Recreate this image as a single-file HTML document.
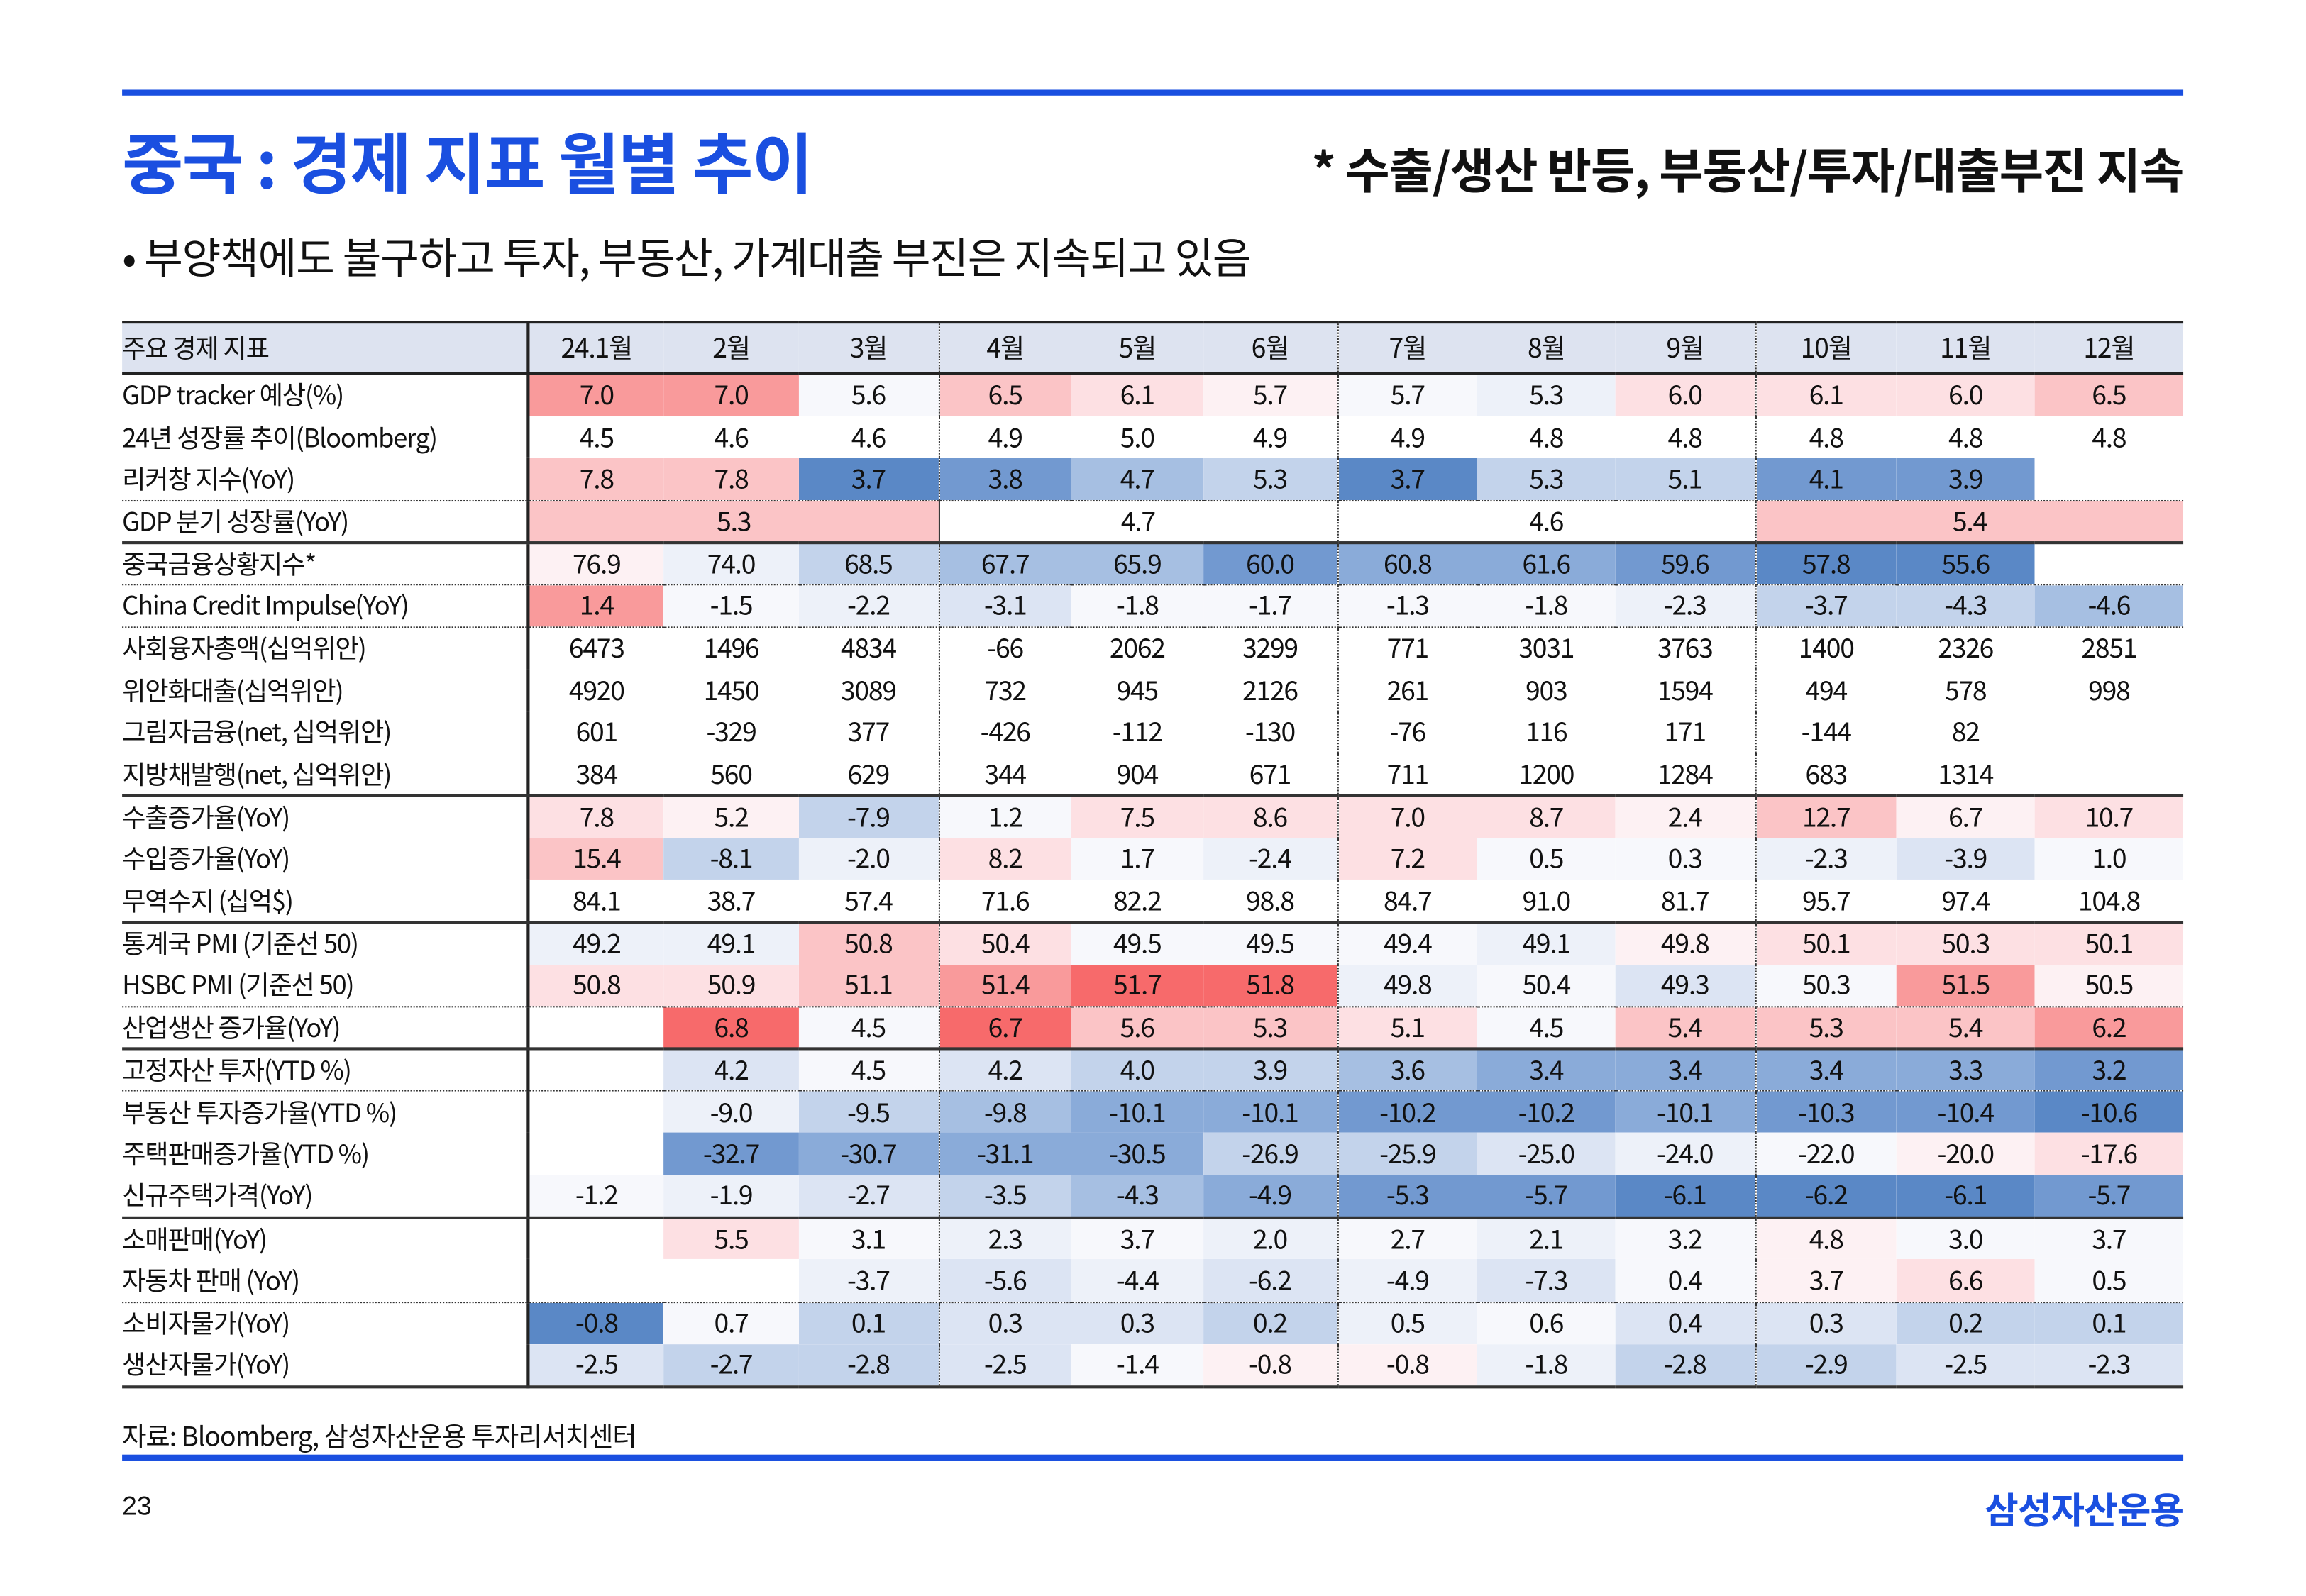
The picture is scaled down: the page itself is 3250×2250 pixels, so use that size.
<!DOCTYPE html>
<html><head><meta charset="utf-8">
<style>
html,body{margin:0;padding:0;background:#fff;overflow:hidden;}
#wrap{width:1568px;height:1086px;position:relative;transform:scale(2.0735);transform-origin:0 0;font-family:"Liberation Sans","Noto Sans CJK KR",sans-serif;color:#111;}
.topline{position:absolute;left:83px;top:61px;width:1401px;height:4px;background:#1a4fe0;}
.title{position:absolute;left:83px;top:81px;font-size:45.2px;font-weight:700;color:#1a4fe0;font-family:"Noto Sans CJK KR",sans-serif;letter-spacing:-0.8px;line-height:58px;}
.sub{position:absolute;right:84px;top:94px;font-size:32.8px;font-weight:700;font-family:"Noto Sans CJK KR",sans-serif;letter-spacing:-0.6px;line-height:42px;}
.bul{position:absolute;left:83px;top:155px;font-size:28.7px;font-family:"Noto Sans CJK KR",sans-serif;letter-spacing:-0.6px;line-height:40px;}
table{position:absolute;left:83px;top:218px;width:1401px;border-collapse:collapse;table-layout:fixed;font-family:"Noto Sans CJK KR",sans-serif;font-size:18px;letter-spacing:-0.6px;}
td{height:28.7px;padding:0;text-align:center;line-height:27px;white-space:nowrap;overflow:hidden;box-sizing:border-box;}
td.l{text-align:left;border-right:2px solid #222;font-size:17.5px;}
tr.h td{background:#dde3f0;height:35px;border-top:2px solid #222;border-bottom:2px solid #222;}
tr.s td{border-bottom:2px solid #333;}
tr.d td{border-bottom:1.5px dotted #333;}
td.v{border-right:1.5px dotted #333;}
.R3{background:#f76a6b}.R2{background:#f99a9b}.R1{background:#fbc4c6}.R0{background:#fde0e3}.r{background:#fdf1f3}
.w{background:#f7f8fc}.b{background:#edf1f9}.B0{background:#dce4f3}.B1{background:#c3d3eb}.B2{background:#a6bfe2}.B3{background:#8aabd9}.B4{background:#7299d0}.B5{background:#5a88c6}
.src{position:absolute;left:83px;top:963px;font-size:18px;font-family:"Noto Sans CJK KR",sans-serif;letter-spacing:-0.5px;}
.botline{position:absolute;left:83px;top:989px;width:1401px;height:4px;background:#1a4fe0;}
.pg{position:absolute;left:83px;top:1014px;font-size:18px;}
.logo{position:absolute;right:84px;top:1008px;font-size:25px;font-weight:700;color:#1a4fe0;font-family:"Noto Sans CJK KR",sans-serif;letter-spacing:-0.5px;}
</style></head><body><div id="wrap">
<div class="topline"></div>
<div class="title">중국 : 경제 지표 월별 추이</div>
<div class="sub">* 수출/생산 반등, 부동산/투자/대출부진 지속</div>
<div class="bul">• 부양책에도 불구하고 투자, 부동산, 가계대출 부진은 지속되고 있음</div>
<table>
<colgroup><col style="width:276px"><col style="width:92px"><col style="width:92px"><col style="width:95px"><col style="width:90px"><col style="width:90px"><col style="width:91px"><col style="width:95px"><col style="width:94px"><col style="width:95px"><col style="width:96px"><col style="width:94px"><col style="width:101px"></colgroup>
<tr class="h"><td class="l">주요 경제 지표</td><td>24.1월</td><td>2월</td><td class="v">3월</td><td>4월</td><td>5월</td><td class="v">6월</td><td>7월</td><td>8월</td><td class="v">9월</td><td>10월</td><td>11월</td><td>12월</td></tr>
<tr><td class="l">GDP tracker 예상(%)</td><td class="R2">7.0</td><td class="R2">7.0</td><td class="w v">5.6</td><td class="R1">6.5</td><td class="R0">6.1</td><td class="r v">5.7</td><td class="w">5.7</td><td class="b">5.3</td><td class="R0 v">6.0</td><td class="R0">6.1</td><td class="R0">6.0</td><td class="R1">6.5</td></tr>
<tr><td class="l">24년 성장률 추이(Bloomberg)</td><td>4.5</td><td>4.6</td><td class="v">4.6</td><td>4.9</td><td>5.0</td><td class="v">4.9</td><td>4.9</td><td>4.8</td><td class="v">4.8</td><td>4.8</td><td>4.8</td><td>4.8</td></tr>
<tr class="d"><td class="l">리커창 지수(YoY)</td><td class="R1">7.8</td><td class="R1">7.8</td><td class="B5 v">3.7</td><td class="B4">3.8</td><td class="B2">4.7</td><td class="B1 v">5.3</td><td class="B5">3.7</td><td class="B1">5.3</td><td class="B1 v">5.1</td><td class="B4">4.1</td><td class="B4">3.9</td><td></td></tr>
<tr class="s"><td class="l">GDP 분기 성장률(YoY)</td><td colspan="3" class="R1" style="border-right:1.5px solid #333">5.3</td><td colspan="3" class="v">4.7</td><td colspan="3" class="v">4.6</td><td colspan="3" class="R1">5.4</td></tr>
<tr class="d"><td class="l">중국금융상황지수*</td><td class="r">76.9</td><td class="b">74.0</td><td class="B1 v">68.5</td><td class="B2">67.7</td><td class="B2">65.9</td><td class="B4 v">60.0</td><td class="B3">60.8</td><td class="B3">61.6</td><td class="B4 v">59.6</td><td class="B5">57.8</td><td class="B5">55.6</td><td></td></tr>
<tr class="d"><td class="l">China Credit Impulse(YoY)</td><td class="R2">1.4</td><td class="w">-1.5</td><td class="b v">-2.2</td><td class="B0">-3.1</td><td class="w">-1.8</td><td class="w v">-1.7</td><td class="w">-1.3</td><td class="w">-1.8</td><td class="b v">-2.3</td><td class="B1">-3.7</td><td class="B1">-4.3</td><td class="B2">-4.6</td></tr>
<tr><td class="l">사회융자총액(십억위안)</td><td>6473</td><td>1496</td><td class="v">4834</td><td>-66</td><td>2062</td><td class="v">3299</td><td>771</td><td>3031</td><td class="v">3763</td><td>1400</td><td>2326</td><td>2851</td></tr>
<tr><td class="l">위안화대출(십억위안)</td><td>4920</td><td>1450</td><td class="v">3089</td><td>732</td><td>945</td><td class="v">2126</td><td>261</td><td>903</td><td class="v">1594</td><td>494</td><td>578</td><td>998</td></tr>
<tr><td class="l">그림자금융(net, 십억위안)</td><td>601</td><td>-329</td><td class="v">377</td><td>-426</td><td>-112</td><td class="v">-130</td><td>-76</td><td>116</td><td class="v">171</td><td>-144</td><td>82</td><td></td></tr>
<tr class="s"><td class="l">지방채발행(net, 십억위안)</td><td>384</td><td>560</td><td class="v">629</td><td>344</td><td>904</td><td class="v">671</td><td>711</td><td>1200</td><td class="v">1284</td><td>683</td><td>1314</td><td></td></tr>
<tr><td class="l">수출증가율(YoY)</td><td class="R0">7.8</td><td class="r">5.2</td><td class="B1 v">-7.9</td><td class="w">1.2</td><td class="R0">7.5</td><td class="R0 v">8.6</td><td class="R0">7.0</td><td class="R0">8.7</td><td class="r v">2.4</td><td class="R1">12.7</td><td class="r">6.7</td><td class="R0">10.7</td></tr>
<tr><td class="l">수입증가율(YoY)</td><td class="R1">15.4</td><td class="B1">-8.1</td><td class="b v">-2.0</td><td class="R0">8.2</td><td class="w">1.7</td><td class="b v">-2.4</td><td class="R0">7.2</td><td class="w">0.5</td><td class="w v">0.3</td><td class="b">-2.3</td><td class="B0">-3.9</td><td class="w">1.0</td></tr>
<tr class="s"><td class="l">무역수지 (십억$)</td><td>84.1</td><td>38.7</td><td class="v">57.4</td><td>71.6</td><td>82.2</td><td class="v">98.8</td><td>84.7</td><td>91.0</td><td class="v">81.7</td><td>95.7</td><td>97.4</td><td>104.8</td></tr>
<tr><td class="l">통계국 PMI (기준선 50)</td><td class="b">49.2</td><td class="b">49.1</td><td class="R1 v">50.8</td><td class="R0">50.4</td><td class="w">49.5</td><td class="w v">49.5</td><td class="w">49.4</td><td class="b">49.1</td><td class="r v">49.8</td><td class="R0">50.1</td><td class="R0">50.3</td><td class="R0">50.1</td></tr>
<tr class="d"><td class="l">HSBC PMI (기준선 50)</td><td class="R0">50.8</td><td class="R0">50.9</td><td class="R1 v">51.1</td><td class="R2">51.4</td><td class="R3">51.7</td><td class="R3 v">51.8</td><td class="b">49.8</td><td class="w">50.4</td><td class="B0 v">49.3</td><td class="w">50.3</td><td class="R2">51.5</td><td class="r">50.5</td></tr>
<tr class="s"><td class="l">산업생산 증가율(YoY)</td><td></td><td class="R3">6.8</td><td class="w v">4.5</td><td class="R3">6.7</td><td class="R1">5.6</td><td class="R1 v">5.3</td><td class="R0">5.1</td><td class="w">4.5</td><td class="R1 v">5.4</td><td class="R1">5.3</td><td class="R1">5.4</td><td class="R2">6.2</td></tr>
<tr class="d"><td class="l">고정자산 투자(YTD %)</td><td></td><td class="B0">4.2</td><td class="w v">4.5</td><td class="B0">4.2</td><td class="B1">4.0</td><td class="B1 v">3.9</td><td class="B2">3.6</td><td class="B3">3.4</td><td class="B3 v">3.4</td><td class="B3">3.4</td><td class="B3">3.3</td><td class="B4">3.2</td></tr>
<tr><td class="l">부동산 투자증가율(YTD %)</td><td></td><td class="b">-9.0</td><td class="B1 v">-9.5</td><td class="B2">-9.8</td><td class="B3">-10.1</td><td class="B3 v">-10.1</td><td class="B4">-10.2</td><td class="B4">-10.2</td><td class="B3 v">-10.1</td><td class="B4">-10.3</td><td class="B4">-10.4</td><td class="B5">-10.6</td></tr>
<tr><td class="l">주택판매증가율(YTD %)</td><td></td><td class="B4">-32.7</td><td class="B3 v">-30.7</td><td class="B3">-31.1</td><td class="B3">-30.5</td><td class="B1 v">-26.9</td><td class="B1">-25.9</td><td class="B0">-25.0</td><td class="b v">-24.0</td><td class="w">-22.0</td><td class="r">-20.0</td><td class="R0">-17.6</td></tr>
<tr class="s"><td class="l">신규주택가격(YoY)</td><td class="w">-1.2</td><td class="b">-1.9</td><td class="B0 v">-2.7</td><td class="B1">-3.5</td><td class="B2">-4.3</td><td class="B3 v">-4.9</td><td class="B4">-5.3</td><td class="B4">-5.7</td><td class="B5 v">-6.1</td><td class="B5">-6.2</td><td class="B5">-6.1</td><td class="B4">-5.7</td></tr>
<tr><td class="l">소매판매(YoY)</td><td></td><td class="R0">5.5</td><td class="w v">3.1</td><td class="b">2.3</td><td class="w">3.7</td><td class="b v">2.0</td><td class="w">2.7</td><td class="b">2.1</td><td class="w v">3.2</td><td class="r">4.8</td><td class="w">3.0</td><td class="w">3.7</td></tr>
<tr class="d"><td class="l">자동차 판매 (YoY)</td><td></td><td></td><td class="b v">-3.7</td><td class="B0">-5.6</td><td class="b">-4.4</td><td class="B0 v">-6.2</td><td class="b">-4.9</td><td class="B0">-7.3</td><td class="w v">0.4</td><td class="r">3.7</td><td class="R0">6.6</td><td class="w">0.5</td></tr>
<tr><td class="l">소비자물가(YoY)</td><td class="B5">-0.8</td><td class="w">0.7</td><td class="B1 v">0.1</td><td class="B0">0.3</td><td class="B0">0.3</td><td class="B1 v">0.2</td><td class="b">0.5</td><td class="w">0.6</td><td class="B0 v">0.4</td><td class="B0">0.3</td><td class="B1">0.2</td><td class="B1">0.1</td></tr>
<tr class="s"><td class="l">생산자물가(YoY)</td><td class="B0">-2.5</td><td class="B1">-2.7</td><td class="B1 v">-2.8</td><td class="B0">-2.5</td><td class="w">-1.4</td><td class="r v">-0.8</td><td class="r">-0.8</td><td class="b">-1.8</td><td class="B1 v">-2.8</td><td class="B1">-2.9</td><td class="B0">-2.5</td><td class="B0">-2.3</td></tr>
</table>
<div class="src">자료: Bloomberg, 삼성자산운용 투자리서치센터</div>
<div class="botline"></div>
<div class="pg">23</div>
<div class="logo">삼성자산운용</div>
</div></body></html>
